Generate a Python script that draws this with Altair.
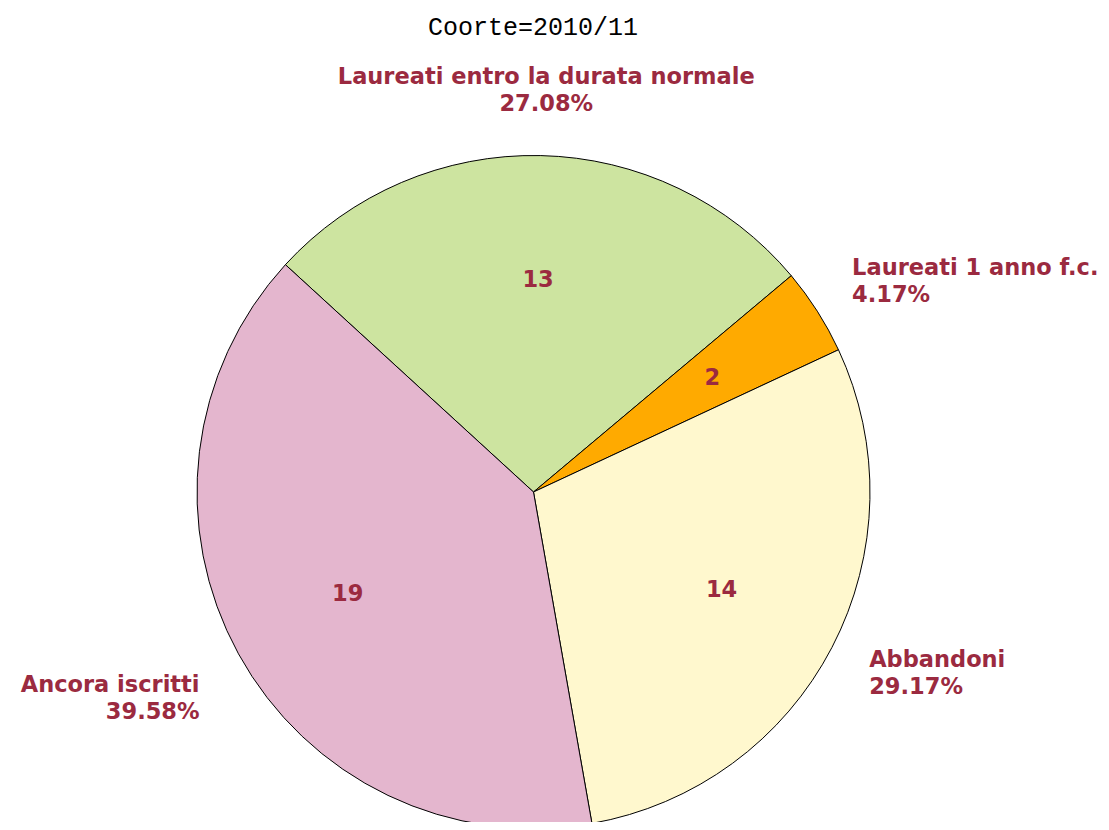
import altair as alt
import pandas as pd
import math

title_text = "Coorte=2010/11"
categories = ["Laureati entro la durata normale", "Laureati 1 anno f.c.", "Abbandoni", "Ancora iscritti"]
counts = [13, 2, 14, 19]
percent_labels = ["27.08%", "4.17%", "29.17%", "39.58%"]
sides = ["center", "left", "left", "right"]
colors = ["#CDE4A0", "#FFAA00", "#FFF8CE", "#E4B6CE"]
text_color = "#9B2A40"

df = pd.DataFrame({
    "cat": categories,
    "count": counts,
    "pct": percent_labels,
    "side": sides,
    "ord": list(range(len(categories))),
})
df["label"] = df["cat"] + "\n" + df["pct"]

start = -47.5 * math.pi / 180
theta_scale = alt.Scale(range=[start, start + 2 * math.pi])

cx, cy = 525.5, 484
fs = 22.5

base = alt.Chart(df).encode(
    theta=alt.Theta("count:Q", stack=True, scale=theta_scale),
    order=alt.Order("ord:Q"),
    x=alt.value(cx),
    y=alt.value(cy),
)

arcs = base.mark_arc(outerRadius=336.5, stroke="black", strokeWidth=1).encode(
    color=alt.Color("cat:N", scale=alt.Scale(domain=categories, range=colors), legend=None)
)

inner = base.mark_text(
    radius=212, font="DejaVu Sans", fontWeight="bold", fontSize=fs, color=text_color
).encode(text=alt.Text("count:Q"))

def outer(side, align, radius, dx, dy):
    return base.transform_calculate(
        lbl=f"datum.side == '{side}' ? datum.label : ''"
    ).mark_text(
        radius=radius, align=align, baseline="middle", lineBreak="\n", lineHeight=27,
        font="DejaVu Sans", fontWeight="bold", fontSize=fs, color=text_color, dx=dx, dy=dy
    ).encode(text="lbl:N")

lab_c = outer("center", "center", 402, 4, -13)
lab_l = outer("left", "left", 392, -12, -13)
lab_r = outer("right", "right", 390, 8, 5)

title = alt.Chart(pd.DataFrame({"t": [title_text]})).mark_text(
    font="Liberation Mono", fontSize=25, color="black", baseline="middle", align="center"
).encode(x=alt.value(525), y=alt.value(19), text="t:N")

chart = alt.layer(arcs, inner, lab_c, lab_l, lab_r, title).properties(
    width=1093, height=814, padding=0, autosize=alt.AutoSizeParams(type="none")
).configure_view(stroke=None)

chart.save("out.html", embed_options={"renderer": "svg", "actions": False})
